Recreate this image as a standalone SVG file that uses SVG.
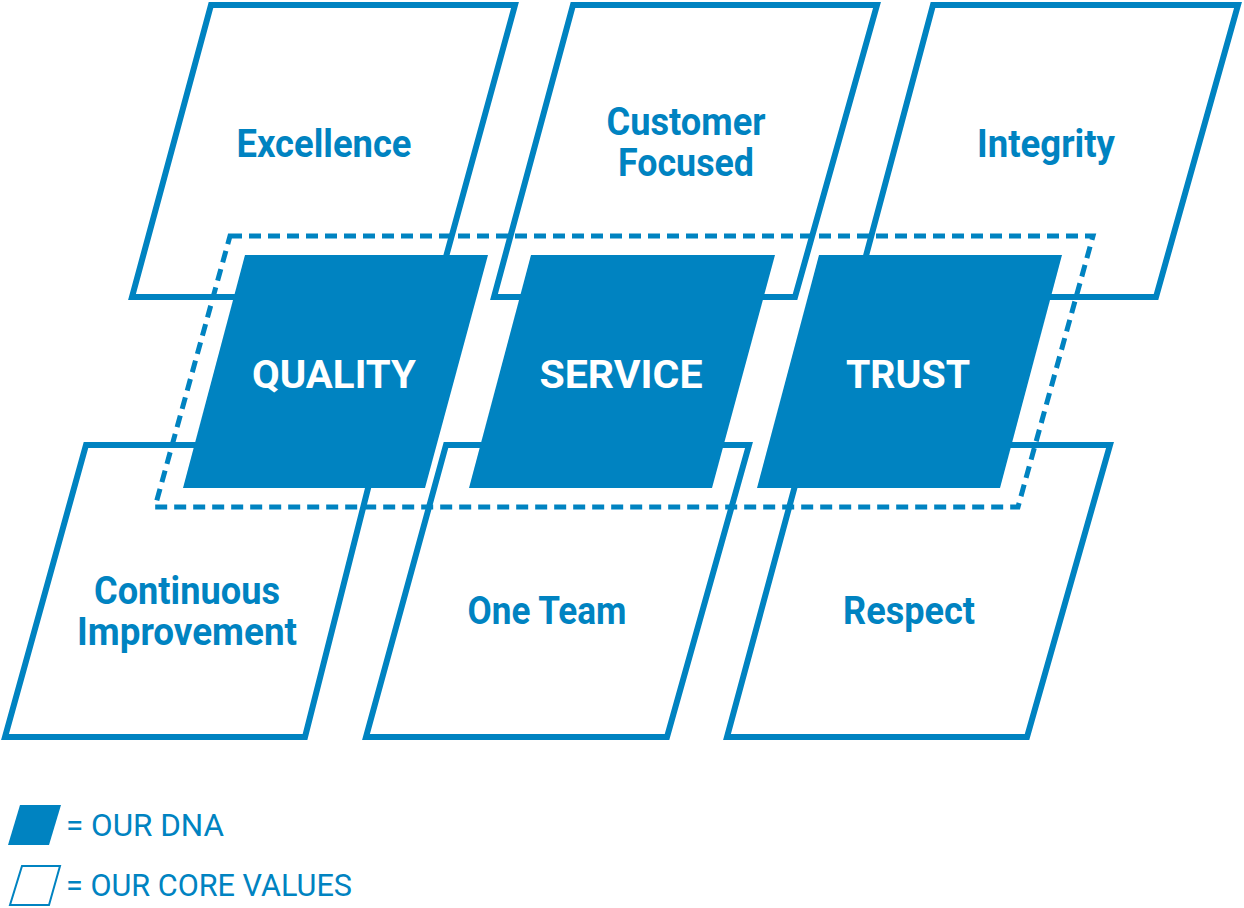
<svg xmlns="http://www.w3.org/2000/svg" width="1244" height="908" viewBox="0 0 1244 908">
<style>
.o{fill:none;stroke:#0083c1;stroke-width:6;stroke-linejoin:miter}
.f{fill:#0083c1}
.d{fill:none;stroke:#0083c1;stroke-width:5;stroke-dasharray:12 7}
.t{font-family:Roboto,"Liberation Sans",sans-serif;font-weight:bold;font-size:38px;fill:#0083c1;text-anchor:middle}
.w{fill:#fff}
.l{font-family:Roboto,"Liberation Sans",sans-serif;font-size:31px;fill:#0083c1}
</style>
<rect width="1244" height="908" fill="#fff"/>
<g id="excellence"><polygon class="o" points="211,5 515,5 435,297 132,297"/><text class="t" x="324" y="157" textLength="175" lengthAdjust="spacingAndGlyphs">Excellence</text></g>
<g id="customer-focused"><polygon class="o" points="573,5 877,5 795,297 494,297"/><text class="t" x="686" y="135" textLength="159" lengthAdjust="spacingAndGlyphs">Customer</text><text class="t" x="686" y="176" textLength="136" lengthAdjust="spacingAndGlyphs">Focused</text></g>
<g id="integrity"><polygon class="o" points="933,5 1238,5 1156,297 855,297"/><text class="t" x="1046" y="157" textLength="138" lengthAdjust="spacingAndGlyphs">Integrity</text></g>
<g id="continuous-improvement"><polygon class="o" points="86,445 379,445 305,737 5,737"/><text class="t" x="187" y="604" textLength="186" lengthAdjust="spacingAndGlyphs">Continuous</text><text class="t" x="187" y="645" textLength="220" lengthAdjust="spacingAndGlyphs">Improvement</text></g>
<g id="one-team"><polygon class="o" points="446,445 749,445 667,737 366,737"/><text class="t" x="547" y="624" textLength="159" lengthAdjust="spacingAndGlyphs">One Team</text></g>
<g id="respect"><polygon class="o" points="806,445 1110,445 1027,737 727,737"/><text class="t" x="909" y="624" textLength="132" lengthAdjust="spacingAndGlyphs">Respect</text></g>
<g id="dna-frame"><polygon class="d" points="230,236 1093,236 1018,507 155,507"/></g>
<g id="quality"><polygon class="f" points="245,255 488,255 425,488 183,488"/><text class="t w" x="334" y="388" textLength="164" lengthAdjust="spacingAndGlyphs">QUALITY</text></g>
<g id="service"><polygon class="f" points="531,255 775,255 712,488 469,488"/><text class="t w" x="621" y="388" textLength="163" lengthAdjust="spacingAndGlyphs">SERVICE</text></g>
<g id="trust"><polygon class="f" points="819,255 1062,255 1000,488 757,488"/><text class="t w" x="908" y="388" textLength="124" lengthAdjust="spacingAndGlyphs">TRUST</text></g>
<g id="connectors"></g>
<g id="legend">
<polygon class="f" points="20,805 61,805 49,845 8,845"/>
<text class="l" x="66" y="836" textLength="158" lengthAdjust="spacingAndGlyphs">= OUR DNA</text>
<polygon fill="none" stroke="#0083c1" stroke-width="2" points="22,866 60,866 49,905 10,905"/>
<text class="l" x="66" y="896" textLength="286" lengthAdjust="spacingAndGlyphs">= OUR CORE VALUES</text>
</g>
</svg>
